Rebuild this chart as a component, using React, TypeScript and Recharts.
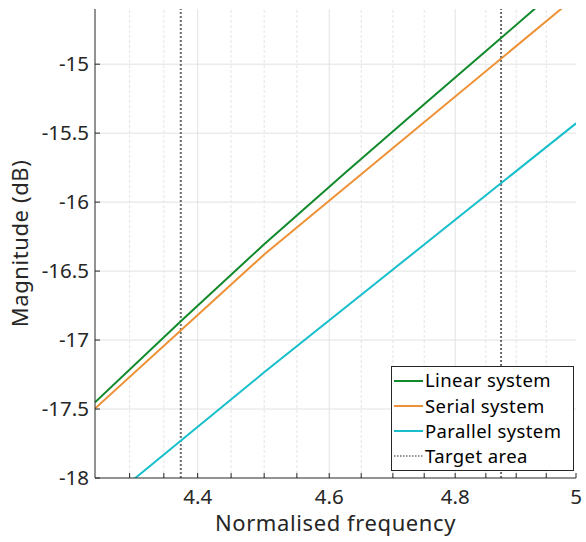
import React from 'react';
import {
  LineChart,
  Line,
  XAxis,
  YAxis,
  ReferenceLine,
  Legend,
  Label,
} from 'recharts';

// values (log-scaled frequency axis)
const linearFreq = [4.25, 4.375, 4.5, 4.625, 4.75, 4.875, 5];
const linearMag = [-17.451, -16.864, -16.305, -15.787, -15.29, -14.81, -14.34];
const serialFreq = [4.25, 4.5, 5];
const serialMag = [-17.497, -16.38, -14.51];
const parallelFreq = [4.25, 4.5, 5];
const parallelMag = [-18.24, -17.234, -15.429];

const targetBounds = [4.375, 4.875];

const xMajorTicks = [4.4, 4.6, 4.8, 5];
const xMinorTicks = [4.3, 4.35, 4.45, 4.5, 4.55, 4.65, 4.7, 4.75, 4.85, 4.9, 4.95];
const yTicks = [-18, -17.5, -17, -16.5, -16, -15.5, -15];

// no serif face is installed, so a sans one sized to the reference's text widths
const FONT = "'Noto Sans', sans-serif";
const AXIS = '#262626';

const toRows = (f: number[], m: number[]) => f.map((x, i) => ({ f: x, m: m[i] }));

const series = [
  { name: 'Linear system', color: '#118a2b', data: toRows(linearFreq, linearMag) },
  { name: 'Serial system', color: '#ee9136', data: toRows(serialFreq, serialMag) },
  { name: 'Parallel system', color: '#17bfcc', data: toRows(parallelFreq, parallelMag) },
];

const allXTicks = [...xMinorTicks, ...xMajorTicks].sort((a, b) => a - b);

const LegendBox = () => {
  const rows = [
    ...series.map((s) => ({ name: s.name, color: s.color, dash: undefined as string | undefined, w: 2 })),
    { name: 'Target area', color: '#6b6b6b', dash: '1.5 1.5', w: 1.5 },
  ];
  return (
    <div
      style={{
        width: 183,
        height: 105,
        boxSizing: 'border-box',
        border: `1px solid ${AXIS}`,
        background: '#fff',
        padding: '1px 0 0 2px',
        fontFamily: FONT,
        fontSize: 18.5,
        letterSpacing: 0.4,
        color: '#000',
      }}
    >
      {rows.map((r) => (
        <div key={r.name} style={{ height: 25.2, display: 'flex', alignItems: 'center' }}>
          <svg width={29} height={4} style={{ flex: 'none' }}>
            <line x1={0} y1={2} x2={29} y2={2} stroke={r.color} strokeWidth={r.w} strokeDasharray={r.dash} />
          </svg>
          <span style={{ marginLeft: 2, whiteSpace: 'nowrap', lineHeight: 1 }}>{r.name}</span>
        </div>
      ))}
    </div>
  );
};

const App = () => {
  const tickStyle = { fontFamily: FONT, fontSize: 20.5, fill: AXIS };
  return (
    <div style={{ position: 'absolute', left: 0, top: 0, width: 586, height: 542, background: '#fff', fontFamily: FONT }}>
      <LineChart width={586} height={542} margin={{ top: 9, right: 10, left: 0, bottom: 0 }}>
        <XAxis
          dataKey="f"
          type="number"
          scale="log"
          domain={[4.25, 5]}
          allowDataOverflow
          ticks={allXTicks}
          interval={0}
          tickFormatter={(v: number) => (xMajorTicks.includes(v) ? String(v) : '')}
          tick={tickStyle}
          tickSize={-5}
          tickMargin={16}
          tickLine={{ stroke: AXIS }}
          axisLine={{ stroke: AXIS }}
          height={64}
        >
          <Label
            content={(p: any) => (
              <text
                x={p.viewBox.x + p.viewBox.width / 2}
                y={p.viewBox.y + 53}
                textAnchor="middle"
                style={{ fontFamily: FONT, fontSize: 22, letterSpacing: 0.6 }}
                fill={AXIS}
              >
                Normalised frequency
              </text>
            )}
          />
        </XAxis>
        <XAxis
          xAxisId="top"
          orientation="top"
          dataKey="f"
          type="number"
          scale="log"
          domain={[4.25, 5]}
          allowDataOverflow
          ticks={allXTicks}
          interval={0}
          tick={false}
          tickSize={-5}
          tickLine={{ stroke: AXIS }}
          axisLine={{ stroke: AXIS }}
          height={0}
        />
        <YAxis
          type="number"
          domain={[-18, -14.6]}
          allowDataOverflow
          ticks={yTicks}
          interval={0}
          tick={tickStyle}
          tickSize={-5}
          tickMargin={11}
          tickLine={{ stroke: AXIS }}
          axisLine={{ stroke: AXIS }}
          width={95}
        >
          <Label
            content={(p: any) => {
              const cx = p.viewBox.x + 28;
              const cy = p.viewBox.y + p.viewBox.height / 2;
              return (
                <text
                  x={cx}
                  y={cy}
                  transform={`rotate(-90 ${cx} ${cy})`}
                  textAnchor="middle"
                  style={{ fontFamily: FONT, fontSize: 22, letterSpacing: 0.6 }}
                  fill={AXIS}
                >
                  Magnitude (dB)
                </text>
              );
            }}
          />
        </YAxis>
        <YAxis
          yAxisId="right"
          orientation="right"
          type="number"
          domain={[-18, -14.6]}
          allowDataOverflow
          ticks={yTicks}
          interval={0}
          tick={false}
          tickSize={-5}
          tickLine={{ stroke: AXIS }}
          axisLine={{ stroke: AXIS }}
          width={0}
        />

        {xMinorTicks.map((v) => (
          <ReferenceLine key={`mx${v}`} x={v} stroke="#e4e4e4" strokeDasharray="3 2" />
        ))}
        {xMajorTicks.slice(0, 3).map((v) => (
          <ReferenceLine key={`Mx${v}`} x={v} stroke="#e2e2e2" />
        ))}
        {yTicks.slice(1).map((v) => (
          <ReferenceLine key={`y${v}`} y={v} stroke="#e2e2e2" />
        ))}
        {targetBounds.map((v) => (
          <ReferenceLine key={`t${v}`} x={v} stroke="#6b6b6b" strokeWidth={2} strokeDasharray="2 2" />
        ))}

        {series.map((s) => (
          <Line
            key={s.name}
            name={s.name}
            data={s.data}
            dataKey="m"
            type="linear"
            stroke={s.color}
            strokeWidth={2}
            dot={false}
            activeDot={false}
            isAnimationActive={false}
          />
        ))}

        <Legend
          layout="horizontal"
          verticalAlign="middle"
          align="center"
          content={() => <LegendBox />}
          wrapperStyle={{ left: 391, top: 366, width: 183, height: 105 }}
        />
      </LineChart>
    </div>
  );
};

export default App;
